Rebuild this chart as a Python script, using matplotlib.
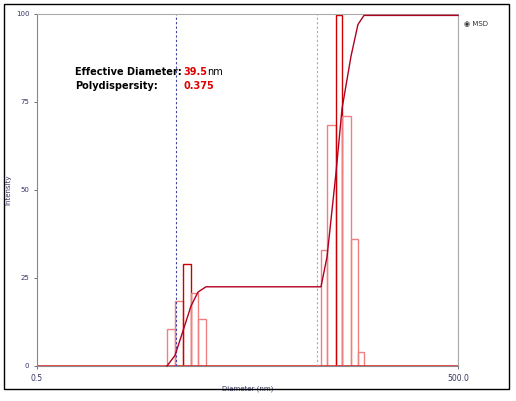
import numpy as np
import matplotlib
matplotlib.use("Agg")
import matplotlib.pyplot as plt
from matplotlib.patches import Rectangle

# bin edges (nm) and intensities
left_edges = [4.22, 4.81, 5.49, 6.25, 7.02, 8.0]
left_heights = [10.5, 18.5, 29, 20.7, 13.3]
right_edges = [52.8, 58.3, 67.6, 74.5, 86.4, 96.8, 106.9]
right_heights = [33, 68.5, 99.7, 71, 36, 4]
cum_x = [4.22, 4.81, 5.49, 6.25, 7.02, 8.0, 52.8, 58.3, 67.6, 74.5, 86.4, 96.8, 106.9, 500]
cum_y = [0, 3, 10, 17, 21, 22.5, 22.5, 31, 55, 73, 88, 97, 99.6, 99.6]

W, H = 516, 401
fig = plt.figure(figsize=(W/100, H/100), dpi=100)
fig.patches.append(Rectangle((4/W, 12/H), 505/W, 385/H, transform=fig.transFigure,
                             fill=False, ec='black', lw=1))
ax = fig.add_axes([37/W, 35/H, 421/W, 352/H])
ax.set_xscale('log')
ax.set_xlim(0.5, 500)
ax.set_ylim(0, 100)

def draw(edges, heights, dark_idx):
    for i, h in enumerate(heights):
        c = '#cc0000' if i == dark_idx else '#f08080'
        ax.bar(edges[i], h, width=edges[i+1]-edges[i], align='edge',
               fill=False, edgecolor=c, lw=1)
draw(left_edges, left_heights, 2)
draw(right_edges, right_heights, 2)
ax.plot(cum_x, cum_y, color='#b00020', lw=1, zorder=5, clip_on=False)
ax.axhline(0, color='#e03030', lw=1.2)
ax.axvline(4.89, color='#4040a0', ls=(0, (2, 2)), lw=0.8)
ax.axvline(49.5, color='#aaaaaa', ls=(0, (2, 2)), lw=0.8)
ax.axvline(500, color='#aaaaaa', ls=(0, (2, 2)), lw=0.8)

for s in ['top', 'right']:
    ax.spines[s].set_color('#aaaaaa')
ax.spines['left'].set_color('#888888')
ax.spines['bottom'].set_color('#888888')
ax.set_yticks([0, 25, 50, 75, 100])
ax.set_yticklabels(['0', '25', '50', '75', '100'], fontsize=5)
ax.set_xticks([0.5, 500])
ax.set_xticklabels(['0.5', '500.0'], fontsize=5.5)
ax.xaxis.set_minor_locator(matplotlib.ticker.NullLocator())
ax.tick_params(length=2, width=0.5, colors='#333366', labelcolor='#333366')
ax.set_xlabel('Diameter (nm)', fontsize=5, color='#333366', labelpad=2)
ax.set_ylabel('Intensity', fontsize=5, color='#333366', labelpad=3)

fig.text(75/W, 1-72/H, 'Effective Diameter:', fontsize=7, fontweight='bold', va='center')
fig.text(183/W, 1-72/H, '39.5', fontsize=7, fontweight='bold', color='#e00000', va='center')
fig.text(207/W, 1-72/H, 'nm', fontsize=7, va='center')
fig.text(75/W, 1-86/H, 'Polydispersity:', fontsize=7, fontweight='bold', va='center')
fig.text(183/W, 1-86/H, '0.375', fontsize=7, fontweight='bold', color='#e00000', va='center')
fig.text(464/W, 1-23/H, '\u25c9 MSD', fontsize=5, color='#333333', va='center')

fig.savefig('out.png', dpi=100)
